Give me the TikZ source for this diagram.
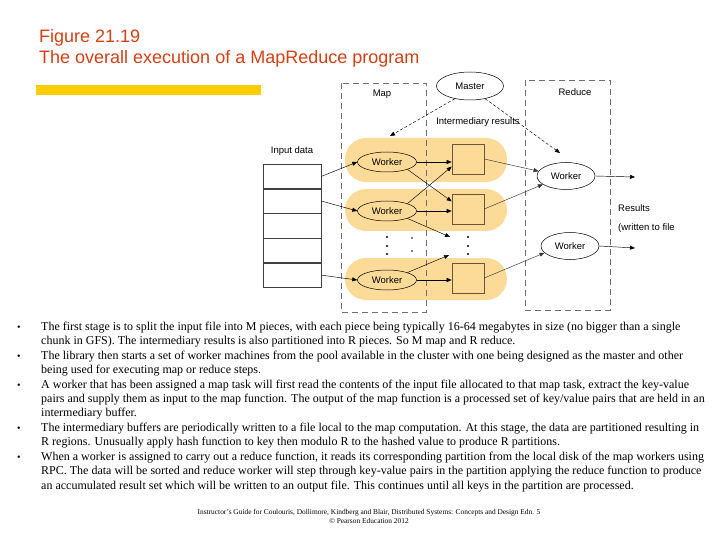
\documentclass[tikz,border=0pt]{standalone}
\usepackage{fontspec}
\setmainfont{Liberation Serif}
\setsansfont{Liberation Sans}
\usetikzlibrary{arrows.meta,shapes.geometric}

\definecolor{titlered}{RGB}{210,64,20}
\definecolor{bandcol}{RGB}{252,219,153}
\definecolor{barcol}{RGB}{255,204,0}
\definecolor{phasegray}{RGB}{110,110,110}
\definecolor{bufbrown}{RGB}{105,85,55}

\tikzset{
  lbl/.style={font=\sffamily\fontsize{9.5}{11}\selectfont, inner sep=0pt},
  wk/.style={ellipse, draw, line width=0.5pt, inner sep=0pt,
    font=\sffamily\fontsize{9.5}{11}\selectfont},
  buf/.style={draw=bufbrown, line width=0.6pt, minimum width=32pt,
    minimum height=30pt, inner sep=0pt},
  instack/.style={draw=black!75, line width=0.5pt, minimum width=58pt,
    minimum height=24.2pt, inner sep=0pt},
  feed/.style={-{Triangle[length=5pt,width=4pt]}, line width=0.45pt},
  ctrl/.style={feed, dash pattern=on 3pt off 2pt},
  phase/.style={draw=phasegray, line width=0.6pt, dash pattern=on 6pt off 4pt},
  band/.style={fill=bandcol, rounded corners=21pt},
  body/.style={anchor=base west, inner sep=0pt, font=\fontsize{12}{14}\selectfont},
  blt/.style={anchor=base, inner sep=0pt, font=\fontsize{10}{14}\selectfont},
}

\begin{document}
\begin{tikzpicture}[x=1pt, y=-1pt]
  \useasboundingbox (0,0) rectangle (720,540);

  % title and bar
  \node[anchor=base west, inner sep=0pt, text=titlered,
    font=\sffamily\fontsize{18}{21}\selectfont] (title1) at (39,43) {Figure 21.19};
  \node[anchor=base west, inner sep=0pt, text=titlered,
    font=\sffamily\fontsize{18}{21}\selectfont] (title2) at (39,64) {The overall execution of a MapReduce program};
  \fill[barcol] (36,85) rectangle (261,95);

  % bands behind the map workers
  \fill[band] (345,138) rectangle (507,182);
  \fill[band] (345,189) rectangle (507,231);
  \fill[band] (345,258) rectangle (507,300);

  % map and reduce phases
  \draw[phase] (341,83) rectangle (426,312);
  \draw[phase] (525,80) rectangle (610,310);
  \node[lbl] (maplbl) at (382,94) {Map};
  \node[lbl] (redlbl) at (575,92) {Reduce};

  \node[wk, fill=white, minimum width=67pt, minimum height=28pt] (master) at (470,86) {Master};
  \node[lbl] (interlbl) at (478,122) {Intermediary results};

  % input data
  \node[lbl] (inlbl) at (292,151) {Input data};
  \node[instack, anchor=north west] (in1) at (263,164) {};
  \node[instack, anchor=north] (in2) at (in1.south) {};
  \node[instack, anchor=north] (in3) at (in2.south) {};
  \node[instack, anchor=north] (in4) at (in3.south) {};
  \node[instack, anchor=north] (in5) at (in4.south) {};

  % map workers and buffers
  \node[wk, minimum width=59pt, minimum height=20pt] (mw1) at (387,162) {Worker};
  \node[wk, minimum width=59pt, minimum height=20pt] (mw2) at (387,211) {Worker};
  \node[wk, minimum width=59pt, minimum height=20pt] (mw3) at (387,280) {Worker};

  \node[buf] (buf1) at (468,159) {};
  \node[buf] (buf2) at (468,209) {};
  \node[buf] (buf3) at (468,278) {};

  % reduce workers
  \node[wk, minimum width=58pt, minimum height=27pt] (rw1) at (566,176) {Worker};
  \node[wk, minimum width=58pt, minimum height=27pt] (rw2) at (570,246) {Worker};

  \coordinate (mwTip) at (390,136);
  \coordinate (rwTip) at (560,153);
  \coordinate (gapA) at (450,237);
  \coordinate (gapB) at (449,255);
  \coordinate (out1) at (635,177);
  \coordinate (out2) at (635,248);

  \draw[ctrl] (master.220) -- (mwTip);
  \draw[ctrl] (master.-40) -- (rwTip);

  \draw[feed] (in1.east) -- (mw1.west);
  \draw[feed] (in2.east) -- (mw2.west);
  \draw[feed] (in5.east) -- (mw3.west);

  \draw[feed] (mw1.east) -- (mw1.east -| buf1.west);
  \draw[feed] (mw1.-20) -- (buf2.155);
  \draw[feed] (mw2.20) -- (buf1.205);
  \draw[feed] (mw2.east) -- (mw2.east -| buf2.west);
  \draw[feed] (mw2.-20) -- (gapA);
  \draw[feed] (mw3.20) -- (gapB);
  \draw[feed] (mw3.east) -- (mw3.east -| buf3.west);

  \draw[feed, draw=black!80] (buf1.east) -- (rw1.170);
  \draw[feed, draw=black!80] (buf2.east) -- (rw1.200);
  \draw[feed, draw=black!80] (buf3.east) -- (rw2.195);

  \draw[feed] (rw1.east) -- (out1);
  \draw[feed] (rw2.east) -- (out2);

  \node[lbl, anchor=west] (reslbl) at (618,208) {Results};
  \node[lbl, anchor=west] (filelbl) at (618,228) {(written to file};

  % dots
  \fill (387,237) circle (1.2);
  \fill (387,246) circle (1.2);
  \fill (387,254) circle (1.2);
  \fill (412,238) circle (0.9);
  \fill (412,251) circle (0.9);
  \fill (468,237) circle (1.2);
  \fill (468,246) circle (1.2);
  \fill (468,254) circle (1.2);

  % bullet text
  \node[blt] (b1) at (19,330) {\textbullet};
  \node[blt] (b2) at (19,359) {\textbullet};
  \node[blt] (b3) at (19,388) {\textbullet};
  \node[blt] (b4) at (19,431) {\textbullet};
  \node[blt] (b5) at (19,460) {\textbullet};

  \node[body] (l1) at (41,330) {The first stage is to split the input file into M pieces, with each piece being typically 16-64 megabytes in size (no bigger than a single};
  \node[body] (l2) at (41,344.5) {chunk in GFS). The intermediary results is also partitioned into R pieces. So M map and R reduce.};
  \node[body] (l3) at (41,359) {The library then starts a set of worker machines from the pool available in the cluster with one being designed as the master and other};
  \node[body] (l4) at (41,373.5) {being used for executing map or reduce steps.};
  \node[body] (l5) at (41,388) {A worker that has been assigned a map task will first read the contents of the input file allocated to that map task, extract the key-value};
  \node[body] (l6) at (41,402) {pairs and supply them as input to the map function. The output of the map function is a processed set of key/value pairs that are held in an};
  \node[body] (l7) at (41,416.5) {intermediary buffer.};
  \node[body] (l8) at (41,431) {The intermediary buffers are periodically written to a file local to the map computation. At this stage, the data are partitioned resulting in};
  \node[body] (l9) at (41,445.5) {R regions. Unusually apply hash function to key then modulo R to the hashed value to produce R partitions.};
  \node[body] (l10) at (41,460) {When a worker is assigned to carry out a reduce function, it reads its corresponding partition from the local disk of the map workers using};
  \node[body] (l11) at (41,474.5) {RPC. The data will be sorted and reduce worker will step through key-value pairs in the partition applying the reduce function to produce};
  \node[body] (l12) at (41,489) {an accumulated result set which will be written to an output file. This continues until all keys in the partition are processed.};

  % footer
  \node[anchor=base, inner sep=0pt, font=\fontsize{7.4}{9}\selectfont] (foot1) at (369,514)
    {Instructor's Guide for Coulouris, Dollimore, Kindberg and Blair, Distributed Systems: Concepts and Design Edn. 5};
  \node[anchor=base, inner sep=0pt, font=\fontsize{7.4}{9}\selectfont] (foot2) at (369,523)
    {\textcopyright{} Pearson Education 2012};
\end{tikzpicture}
\end{document}
